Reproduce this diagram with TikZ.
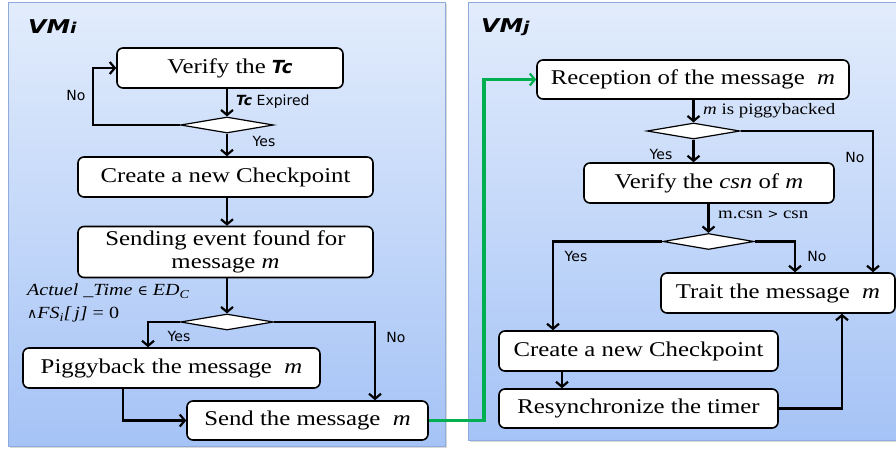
\documentclass[tikz,border=0pt]{standalone}
\usepackage{fontspec}
\setmainfont[FakeStretch=1.18]{Liberation Serif}
\newfontfamily\labelfont{DejaVu Sans}
\newfontfamily\vmfont[FakeStretch=1.25]{DejaVu Sans}
\newfontfamily\symfont{DejaVu Serif}
\usetikzlibrary{arrows.meta}
\usetikzlibrary{shapes.geometric}
\definecolor{paneltop}{HTML}{E2ECFC}
\definecolor{panelbot}{HTML}{A5C3F6}
\definecolor{panelrim}{HTML}{8FAADC}
\definecolor{sendgreen}{HTML}{00B050}
\newcommand{\Tc}[1]{{\labelfont\bfseries\itshape\fontsize{#1}{#1}\selectfont Tc}}

\begin{document}
\begin{tikzpicture}[x=1pt,y=-1pt,
  stepbox/.style={draw,line width=1.6pt,rounded corners=6pt,fill=white,inner sep=0pt,
    align=center,font=\fontsize{21}{23}\selectfont},
  test/.style={draw,line width=1.2pt,fill=white,diamond,inner sep=0pt,
    minimum width=93pt,minimum height=16pt},
  flow/.style={line width=2.4pt,-{Straight Barb[length=5pt,width=12pt,line width=2.2pt]}},
  answer/.style={inner sep=0pt,font=\labelfont\fontsize{14}{16}\selectfont},
  cond/.style={inner sep=0pt,anchor=west,font=\fontsize{16}{18}\selectfont},
  guard/.style={inner sep=0pt,anchor=west,font=\itshape\fontsize{17}{19}\selectfont},
  vm/.style={inner sep=0pt,anchor=west,font=\vmfont\bfseries\itshape\fontsize{19}{20}\selectfont}]
\useasboundingbox (0,0) rectangle (896,450);
% the two virtual machines
\fill[black!15] (10,4) rectangle (447,448);
\shade[top color=paneltop,bottom color=panelbot,draw=panelrim,line width=0.8pt] (8,2) rectangle (445,446);
\fill[black!15] (470,4) rectangle (898,442);
\shade[top color=paneltop,bottom color=panelbot,draw=panelrim,line width=0.8pt] (468,2) rectangle (898,440);
\node[vm] (vmi) at (28,27) {VM{\fontsize{15}{16}\selectfont i}};
\node[vm] (vmj) at (481,27) {VM{\fontsize{15}{16}\selectfont j}};

% sender side
\node[stepbox,minimum width=226pt,minimum height=40pt] (verify) at (230,68) {Verify the \Tc{18}};
\node[test] (timer) at (227,125) {};
\node[stepbox,minimum width=295pt,minimum height=40pt] (create) at (225.5,177) {Create a new Checkpoint};
\node[stepbox,minimum width=295pt,minimum height=51pt] (event) at (225.5,252) {Sending event found for\\message \textit{m}};
\node[test] (period) at (227,322) {};
\node[stepbox,minimum width=297pt,minimum height=40pt] (piggy) at (171.5,368) {Piggyback the message \ \textit{m}};
\node[stepbox,minimum width=241pt,minimum height=39pt] (send) at (307.5,420.5) {Send the message \ \textit{m}};

\draw[flow] (verify.south -| timer) -- (timer.north);
\draw[flow] (timer.west) -- ++(-87,0) |- (verify.west);
\draw[flow] (timer.south) -- (create.north -| timer);
\draw[flow] (create.south -| timer) -- (event.north -| timer);
\draw[flow] (event.south -| period) -- (period.north);
\draw[flow] (period.west) -| ([xshift=-23.5pt]piggy.north);
\draw[flow] (period.east) -| ([xshift=67.5pt]send.north);
\draw[flow] ([xshift=-48.5pt]piggy.south) |- (send.west);

\node[answer,anchor=west] at (236,102) {\Tc{14} Expired};
\node[answer] at (76,95) {No};
\node[answer] at (264,141) {Yes};
\node[answer] at (179,336) {Yes};
\node[answer] at (396,337) {No};
\node[guard] at (27,291) {Actuel \_Time {\upshape\symfont\fontsize{14}{16}\selectfont ∈} ED\raisebox{-3pt}{\fontsize{12}{12}\selectfont C}};
\node[guard] at (27,314) {{\upshape\symfont\fontsize{14}{16}\selectfont ∧}FS\raisebox{-3pt}{\fontsize{12}{12}\selectfont i}[\,j] {\upshape= 0}};

% receiver side
\node[stepbox,minimum width=312pt,minimum height=39pt] (recv) at (693,79.5) {Reception of the message \ \textit{m}};
\node[test] (piggied) at (693.5,131) {};
\node[stepbox,minimum width=250pt,minimum height=40pt] (csn) at (709,183) {Verify the \textit{csn} of \textit{m}};
\node[test,minimum width=91pt] (newer) at (708.5,241.5) {};
\node[stepbox,minimum width=234pt,minimum height=40pt] (trait) at (778,293) {Trait the message \ \textit{m}};
\node[stepbox,minimum width=279pt,minimum height=40pt] (ckpt) at (638.5,351) {Create a new Checkpoint};
\node[stepbox,minimum width=279pt,minimum height=39pt] (resync) at (638.5,408.5) {Resynchronize the timer};

\draw[flow,sendgreen,line width=3.4pt] (send.east) -- ++(55,0) |- (recv.west);
\draw[flow] (recv.south -| piggied) -- (piggied.north);
\draw[flow] (piggied.south) -- (csn.north -| piggied);
\draw[flow] (piggied.east) -| ([xshift=95pt]trait.north);
\draw[flow] (csn.south -| newer) -- (newer.north);
\draw[flow] (newer.west) -| ([xshift=-85.5pt]ckpt.north);
\draw[flow] (newer.east) -| ([xshift=17pt]trait.north);
\draw[flow] ([xshift=-76.5pt]ckpt.south) -- ([xshift=-76.5pt]resync.north);
\draw[flow] (resync.east) -| ([xshift=64pt]trait.south);

\node[cond] at (703,111) {\textit{m} is piggybacked};
\node[cond] at (718,215) {m.csn {\symfont\fontsize{13}{15}\selectfont >} csn};
\node[answer] at (661,154) {Yes};
\node[answer] at (855,157) {No};
\node[answer] at (576,256) {Yes};
\node[answer] at (817,256) {No};
\end{tikzpicture}
\end{document}
